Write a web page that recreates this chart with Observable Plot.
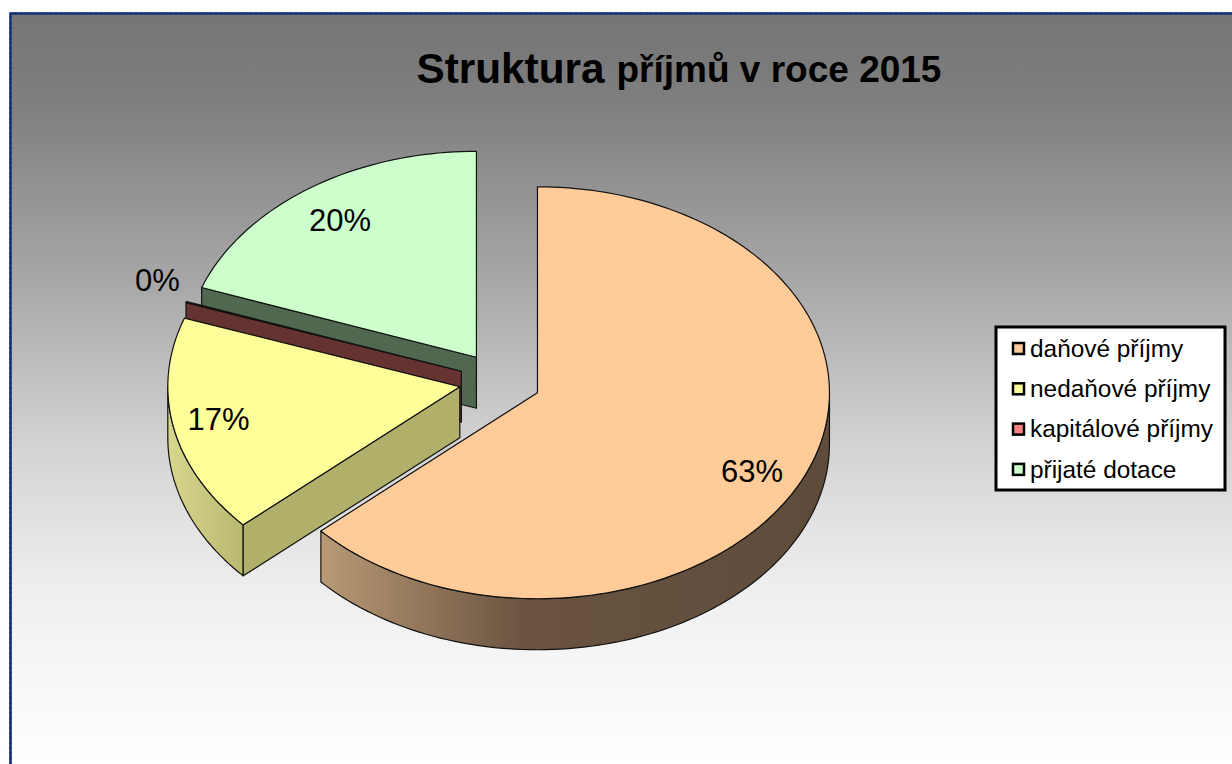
<!DOCTYPE html>
<html lang="cs">
<head>
<meta charset="utf-8">
<script src="https://cdn.jsdelivr.net/npm/d3@7"></script>
<script src="https://cdn.jsdelivr.net/npm/@observablehq/plot@0.6"></script>
<style>
html,body{margin:0;padding:0;background:#fff;overflow:hidden}
svg{display:block}
</style>
</head>
<body>
<div id="chart"></div>
<script>
const categories = ["daňové příjmy", "nedaňové příjmy", "kapitálové příjmy", "přijaté dotace"];
const shares = [63.3, 17.1, 0.1, 19.5];
const percentLabels = ["63%", "17%", "0%", "20%"];
const topColors = ["#FFCC99", "#FFFF99", "#FF8080", "#CCFFCC"];
const wallColors = ["#6A5340", "#B0B06A", "#663333", "#506850"];

const W = 1232, H = 764;
const centre = {x: 499.5, y: 380.5}, rx = 292, ry = 206, depth = 51, explodeX = 41, explodeY = 29;
const rad = d => d * Math.PI / 180;

let cum = 0;
const slices = shares.map((v, i) => {
  const a0 = cum / 100 * 360; cum += v; const a1 = cum / 100 * 360; const m = (a0 + a1) / 2;
  return {i, a0, a1, cx: centre.x + explodeX * Math.sin(rad(m)), cy: centre.y - explodeY * Math.cos(rad(m))};
});
const pt = (s, a, dz = 0) => ({x: s.cx + rx * Math.sin(rad(a)), y: s.cy - ry * Math.cos(rad(a)) + dz});
const arc = (s, a, b, dz = 0) => {
  const n = Math.max(2, Math.ceil(Math.abs(b - a) / 1.5)), out = [];
  for (let k = 0; k <= n; k++) out.push(pt(s, a + (b - a) * k / n, dz));
  return out;
};
const topFace = s => [{x: s.cx, y: s.cy}, ...arc(s, s.a0, s.a1)];
const startWall = s => [{x: s.cx, y: s.cy}, pt(s, s.a0), pt(s, s.a0, depth), {x: s.cx, y: s.cy + depth}];
const rimWall = (s, a, b) => [...arc(s, a, b), ...arc(s, b, a, depth)];
const poly = (pts, fill) => Plot.line(pts, {x: "x", y: "y", curve: "linear-closed", fill, stroke: "#111", strokeWidth: 1.2, strokeLinejoin: "round"});

const defs = () => {
  const svg = d3.create("svg:defs");
  const lin = (id, x1, x2, y1, y2, stops) => {
    const g = svg.append("linearGradient").attr("id", id).attr("gradientUnits", "userSpaceOnUse")
      .attr("x1", x1).attr("x2", x2).attr("y1", y1).attr("y2", y2);
    stops.forEach(([o, c]) => g.append("stop").attr("offset", o).attr("stop-color", c));
  };
  lin("wallOrange", 320, 829, 0, 0, [[0, "#B99A75"], [0.4, "#6A5340"], [1, "#5E4C3B"]]);
  lin("wallYellow", 168, 243, 0, 0, [[0, "#D6D68C"], [1, "#B8B872"]]);
  lin("bg", 0, 0, 13, 764, [[0, "#757575"], [0.116, "#7E7E7E"], [0.372, "#AAAAAA"], [0.569, "#D2D2D2"], [0.762, "#EEEEEE"], [0.924, "#FAFAFA"], [1, "#FFFFFF"]]);
  return svg.node();
};

const [orange, yellow, red, green] = slices;
const legendX = 1013, legendY0 = 348.5, legendStep = 40.3;
const percentX = [751.5, 218, 157, 339.5], percentY = [472, 420, 281, 221];

const chart = Plot.plot({
  width: W, height: H, margin: 0,
  x: {domain: [0, W], range: [0, W], axis: null},
  y: {domain: [0, H], range: [0, H], axis: null},
  marks: [
    defs,
    Plot.rect([0], {x1: 10, x2: W + 5, y1: 13, y2: H + 5, fill: "url(#bg)"}),
    Plot.line([{x: 10, y: H}, {x: 10, y: 13}, {x: W, y: 13}], {x: "x", y: "y", stroke: "#4a6cb0", strokeWidth: 2.5}),
    Plot.line([{x: 10, y: H}, {x: 10, y: 13}, {x: W, y: 13}], {x: "x", y: "y", stroke: "#16306e", strokeWidth: 2.5, strokeDasharray: "3 2"}),

    Plot.text(["Struktura"], {x: 416, y: 69, text: d => d, textAnchor: "start", fontFamily: "Liberation Sans", fontWeight: "bold", fontSize: 42.3, fill: "#000"}),
    Plot.text(["příjmů v roce 2015"], {x: 616, y: 70, text: d => d, textAnchor: "start", fontFamily: "Liberation Sans", fontWeight: "bold", fontSize: 37, fill: "#000"}),

    poly(startWall(green), wallColors[3]),
    poly(topFace(green), topColors[3]),
    poly(startWall(red), wallColors[2]),
    poly(topFace(red), topColors[2]),
    poly(rimWall(yellow, yellow.a0, 270), "url(#wallYellow)"),
    poly(startWall(yellow), wallColors[1]),
    poly(topFace(yellow), topColors[1]),
    poly(rimWall(orange, 90, orange.a1), "url(#wallOrange)"),
    poly(topFace(orange), topColors[0]),

    Plot.text(percentLabels, {
      x: (d, i) => percentX[i],
      y: (d, i) => percentY[i],
      text: d => d, fontFamily: "Liberation Sans", fontSize: 31, fill: "#000"
    }),

    Plot.rect([0], {x1: 996, x2: 1225, y1: 327, y2: 490, fill: "#fff", stroke: "#000", strokeWidth: 3}),
    Plot.rect(categories, {
      x1: legendX, x2: legendX + 11,
      y1: (d, i) => legendY0 + i * legendStep - 5.5,
      y2: (d, i) => legendY0 + i * legendStep + 5.5,
      fill: (d, i) => topColors[i], stroke: "#000", strokeWidth: 2.5
    }),
    Plot.text(categories, {
      x: legendX + 16.5,
      y: (d, i) => legendY0 + i * legendStep,
      text: d => d, textAnchor: "start", fontFamily: "Liberation Sans", fontSize: 24.4, fill: "#000"
    })
  ]
});
document.getElementById("chart").append(chart);
</script>
</body>
</html>
